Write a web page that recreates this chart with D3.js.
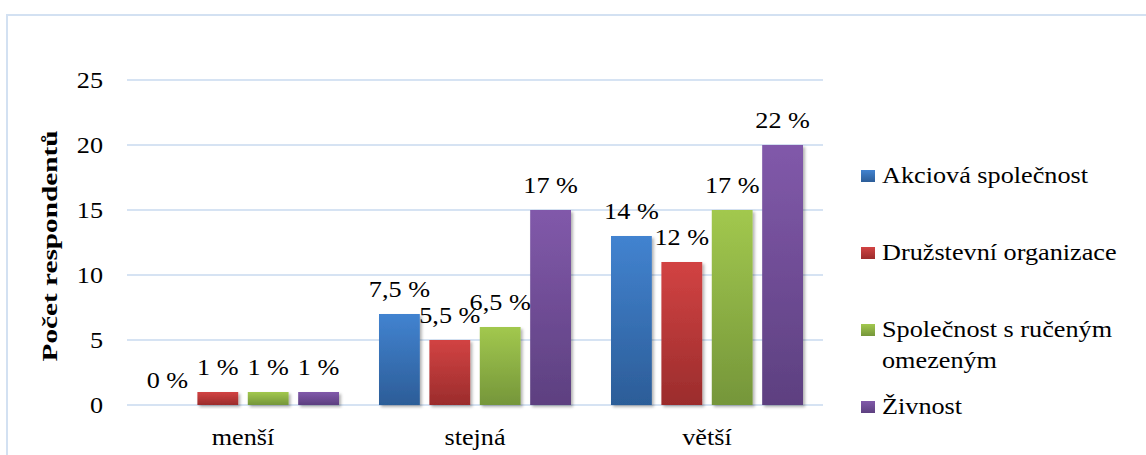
<!DOCTYPE html>
<html>
<head>
<meta charset="utf-8">
<script src="https://cdn.jsdelivr.net/npm/d3@7"></script>
<style>
	body { margin: 0; background: #fff; }
	svg { display: block; font-family: 'Liberation Serif', 'Times New Roman', serif; }
</style>
</head>
<body>
<div class="chart"></div>
<script>
// data
const categories = ['menší', 'stejná', 'větší']
const seriesNames = ['Akciová společnost', 'Družstevní organizace', 'Společnost s ručeným omezeným', 'Živnost']
const valuesAkciova = [0, 7, 13]
const valuesDruzstevni = [1, 5, 11]
const valuesSro = [1, 6, 15]
const valuesZivnost = [1, 15, 20]
const labelsAkciova = ['0 %', '7,5 %', '14 %']
const labelsDruzstevni = ['1 %', '5,5 %', '12 %']
const labelsSro = ['1 %', '6,5 %', '17 %']
const labelsZivnost = ['1 %', '17 %', '22 %']
const yTicks = [0, 5, 10, 15, 20, 25]

const colors = [
	['#4283d0', '#2c5d98'],
	['#d24343', '#9b2c2c'],
	['#a2c84e', '#75963a'],
	['#8159aa', '#5d4080']
]

const width = 1146
const height = 455
const fontSize = 23
// the source font is drawn wider than Times, so text gets stretched sideways
const textStretch = 1.14
const titleStretch = 1.33

const allValues = [valuesAkciova, valuesDruzstevni, valuesSro, valuesZivnost]
const allLabels = [labelsAkciova, labelsDruzstevni, labelsSro, labelsZivnost]

const data = []
categories.forEach((c, ci) => {
	seriesNames.forEach((s, si) => {
		data.push({ cat: c, series: s, si: si, value: allValues[si][ci], label: allLabels[si][ci] })
	})
})

function addText(parent, x, y, str, anchor, stretch, size) {
	return parent.append('text')
		.attr('transform', `translate(${x},${y}) scale(${stretch || textStretch},1)`)
		.attr('text-anchor', anchor || 'start')
		.attr('font-size', size || fontSize)
		.attr('fill', '#000')
		.text(str)
}

const svg = d3.select('.chart').append('svg')
	.attr('width', width)
	.attr('height', height)

const defs = svg.append('defs')
colors.forEach((c, i) => {
	const g = defs.append('linearGradient')
		.attr('id', `grad${i}`)
		.attr('x1', 0).attr('y1', 0).attr('x2', 0).attr('y2', 1)
	g.append('stop').attr('offset', '0%').attr('stop-color', c[0])
	g.append('stop').attr('offset', '100%').attr('stop-color', c[1])
})
defs.append('filter')
	.attr('id', 'shadow')
	.attr('x', '-20%').attr('y', '-20%').attr('width', '150%').attr('height', '150%')
	.append('feDropShadow')
	.attr('dx', 2).attr('dy', 2).attr('stdDeviation', 1.5)
	.attr('flood-color', '#000').attr('flood-opacity', 0.3)

// outer frame
svg.append('rect')
	.attr('x', 7).attr('y', 15)
	.attr('width', width + 20).attr('height', height + 20)
	.attr('fill', 'none')
	.attr('stroke', '#d3e1f2')
	.attr('stroke-width', 2)

const x = d3.scaleBand()
	.domain(categories)
	.range([127, 823])

const xInner = d3.scaleBand()
	.domain(seriesNames)
	.range([20, x.bandwidth() - 20])
	.paddingInner(0.19)

const y = d3.scaleLinear()
	.domain([0, 25])
	.range([405, 80])

// gridlines
svg.append('g')
	.attr('class', 'grid')
	.selectAll('line')
	.data(yTicks)
	.join('line')
	.attr('x1', x.range()[0])
	.attr('x2', x.range()[1])
	.attr('y1', d => y(d))
	.attr('y2', d => y(d))
	.attr('stroke', '#d6e3f3')
	.attr('stroke-width', 2)

// y tick labels
const yAxisG = svg.append('g').attr('class', 'y-axis')
yTicks.forEach(t => {
	addText(yAxisG, 103, y(t) + 7.8, t, 'end')
})

// x category labels
const xAxisG = svg.append('g').attr('class', 'x-axis')
categories.forEach(c => {
	addText(xAxisG, x(c) + x.bandwidth() / 2, 445, c, 'middle')
})

// y axis title
svg.append('g')
	.attr('transform', `translate(57, 246) rotate(-90)`)
	.call(g => addText(g, 0, 0, 'Počet respondentů', 'middle', titleStretch, 22)
		.attr('font-weight', 'bold'))

// bars
const bars = svg.append('g').attr('class', 'bars')
bars.selectAll('rect')
	.data(data.filter(d => d.value > 0))
	.join('rect')
	.attr('x', d => x(d.cat) + xInner(d.series))
	.attr('width', xInner.bandwidth())
	.attr('y', d => y(d.value))
	.attr('height', d => y(0) - y(d.value))
	.attr('fill', d => `url(#grad${d.si})`)
	.attr('filter', 'url(#shadow)')

// value labels
const labelG = svg.append('g').attr('class', 'labels')
data.forEach(d => {
	addText(labelG, x(d.cat) + xInner(d.series) + xInner.bandwidth() / 2, y(d.value) - 17, d.label, 'middle')
})

// legend
const legendRows = [
	['Akciová společnost'],
	['Družstevní organizace'],
	['Společnost s ručeným', 'omezeným'],
	['Živnost']
]
const legend = svg.append('g').attr('transform', 'translate(861,0)')
legendRows.forEach((lines, i) => {
	const base = 183 + i * 77
	legend.append('rect')
		.attr('x', 0).attr('y', base - 13)
		.attr('width', 14).attr('height', 12)
		.attr('fill', `url(#grad${i})`)
	lines.forEach((t, li) => {
		addText(legend, 21, base + li * 31, t, 'start')
	})
})
</script>
</body>
</html>
